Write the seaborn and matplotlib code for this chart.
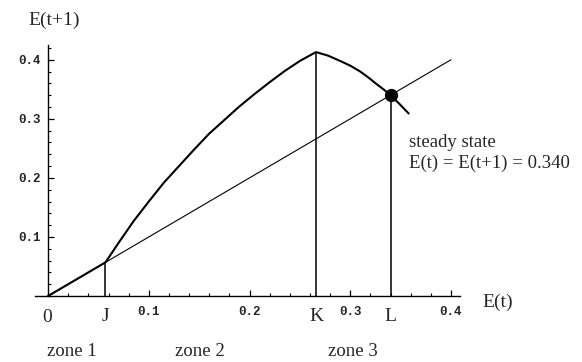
"""
Cobweb-style map E(t) -> E(t+1) with the 45 degree line and the steady state.
"""
import numpy as np
import pandas as pd
import matplotlib
matplotlib.use("Agg")
import matplotlib.pyplot as plt
from matplotlib.ticker import MultipleLocator
import seaborn as sns

# ---------------- Data ----------------
# thick curve: E(t+1) as a function of E(t)
curve_x = [0.0, 0.057, 0.070, 0.085, 0.100, 0.115, 0.130, 0.145, 0.160, 0.175,
           0.190, 0.205, 0.220, 0.235, 0.250, 0.266,
           0.278, 0.290, 0.300, 0.310, 0.318, 0.326, 0.333, 0.340, 0.349, 0.358]
curve_y = [0.0, 0.057, 0.090, 0.127, 0.160, 0.192, 0.220, 0.248, 0.275, 0.298,
           0.321, 0.342, 0.362, 0.381, 0.398, 0.413,
           0.407, 0.398, 0.390, 0.380, 0.370, 0.359, 0.350, 0.340, 0.325, 0.309]
# 45 degree line E(t+1) = E(t)
diag_x = [0.0, 0.1, 0.2, 0.3, 0.4]
diag_y = [0.0, 0.1, 0.2, 0.3, 0.4]

# marked points on the E(t) axis
marks = ["J", "K", "L"]
mark_x = [0.057, 0.266, 0.340]
mark_top = [0.057, 0.413, 0.340]

steady = 0.340
tick_vals = [0.1, 0.2, 0.3, 0.4]
tick_labels = ["0.1", "0.2", "0.3", "0.4"]
zones = ["zone 1", "zone 2", "zone 3"]
zone_x = [0.024, 0.151, 0.303]

# ---------------- Plot ----------------
sns.set_style("white")
plt.rcParams["font.family"] = ["Liberation Serif", "DejaVu Serif"]

fig = plt.figure(figsize=(5.82, 3.62), dpi=100)
# axes box starts where the E(t) axis line starts, a bit left of the origin
ax = fig.add_axes([35 / 582, 66 / 362, 425 / 582, 251 / 362])

curve_df = pd.DataFrame({"x": curve_x, "y": curve_y})
diag_df = pd.DataFrame({"x": diag_x, "y": diag_y})
sns.lineplot(data=diag_df, x="x", y="y", color="black", lw=0.8, ax=ax, sort=False)
sns.lineplot(data=curve_df, x="x", y="y", color="black", lw=1.5, ax=ax, sort=False)

for mx, top in zip(mark_x, mark_top):
    ax.vlines(mx, 0, top, color="black", lw=1.1)
ax.plot([steady], [steady], "o", color="black", ms=8.5)

ax.set_xlim(-0.013, 0.409)
ax.set_ylim(0, 0.425)
ax.spines["left"].set_position(("data", 0))
ax.spines["right"].set_visible(False)
ax.spines["top"].set_visible(False)
for s in ["left", "bottom"]:
    ax.spines[s].set_linewidth(1.0)
    ax.spines[s].set_color("black")

ax.set_xticks(tick_vals)
ax.set_xticklabels(tick_labels)
ax.set_yticks(tick_vals)
ax.set_yticklabels(tick_labels)
ax.xaxis.set_minor_locator(MultipleLocator(0.02))
ax.yaxis.set_minor_locator(MultipleLocator(0.02))
ax.tick_params(which="both", bottom=True, left=True, direction="in", color="black")
ax.tick_params(which="major", length=4, width=0.9)
ax.tick_params(which="minor", length=2.5, width=0.8)
ax.tick_params(axis="x", which="major", pad=7)
ax.tick_params(axis="y", which="major", pad=5)
for lab in ax.get_xticklabels() + ax.get_yticklabels():
    lab.set_family("Liberation Mono")
    lab.set_fontsize(9)
    lab.set_fontweight("bold")
ax.set_xlabel("")
ax.set_ylabel("")

# axis titles
fig.text(28 / 582, 1 - 20 / 362, "E(t+1)", fontsize=14, va="center", ha="left")
fig.text(482 / 582, 1 - 302 / 362, "E(t)", fontsize=14, va="center", ha="left")

# point labels under the axis
ax.text(-0.001, -0.036, "0", fontsize=14, ha="center", va="center")
for m, mx in zip(marks, mark_x):
    ax.text(mx, -0.034, m, fontsize=14, ha="center", va="center")

for z, zx in zip(zones, zone_x):
    ax.text(zx, -0.094, z, fontsize=13.5, ha="center", va="center")

ax.text(0.3585, 0.260, "steady state", fontsize=13.5, ha="left", va="center")
ax.text(0.3585, 0.224, f"E(t) = E(t+1) = {steady:.3f}", fontsize=13.5,
        ha="left", va="center")

for t in ax.texts:
    t.set_clip_on(False)

fig.savefig("out.png", dpi=100)
plt.close(fig)
